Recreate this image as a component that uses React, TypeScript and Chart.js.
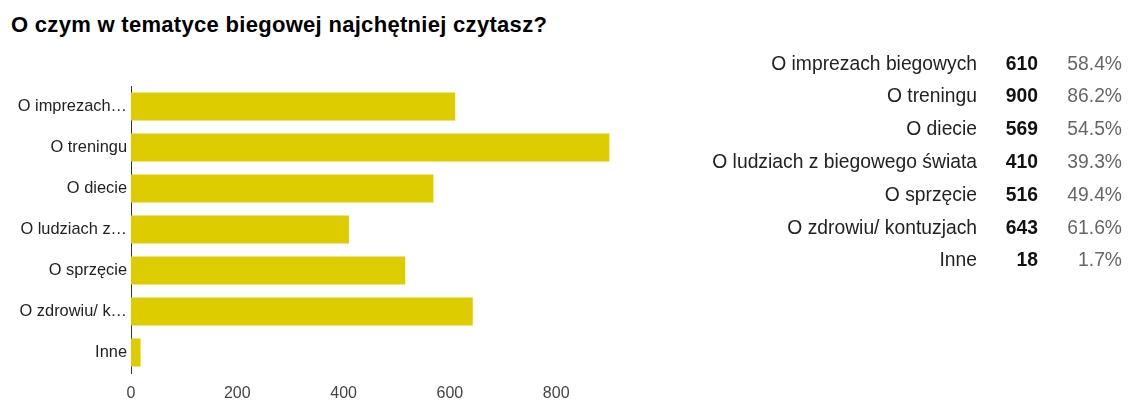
import React, { useEffect, useRef } from "react";
import { Chart, registerables } from "chart.js";

Chart.register(...registerables);

const title = "O czym w tematyce biegowej najchętniej czytasz?";
const categories = [
  "O imprezach biegowych",
  "O treningu",
  "O diecie",
  "O ludziach z biegowego świata",
  "O sprzęcie",
  "O zdrowiu/ kontuzjach",
  "Inne",
];
const axisLabels = [
  "O imprezach…",
  "O treningu",
  "O diecie",
  "O ludziach z…",
  "O sprzęcie",
  "O zdrowiu/ k…",
  "Inne",
];
const counts = [610, 900, 569, 410, 516, 643, 18];
const percents = ["58.4%", "86.2%", "54.5%", "39.3%", "49.4%", "61.6%", "1.7%"];
const xTicks = [0, 200, 400, 600, 800];

const FONT = "'Liberation Sans', Arial, sans-serif";
const CANVAS_W = 680;
const CANVAS_H = 414;

export default function App() {
  const ref = useRef<HTMLCanvasElement | null>(null);

  useEffect(() => {
    if (!ref.current) return;
    const chart = new Chart(ref.current, {
      type: "bar",
      data: {
        labels: axisLabels,
        datasets: [
          {
            data: counts,
            backgroundColor: "#dccc00",
            borderWidth: 0,
            categoryPercentage: 1,
            barPercentage: 0.68,
          },
        ],
      },
      options: {
        indexAxis: "y",
        animation: false,
        responsive: false,
        maintainAspectRatio: false,
        layout: { padding: { top: 86, left: 0, right: 17.5, bottom: 0 } },
        plugins: {
          legend: { display: false },
          tooltip: { enabled: false },
          title: { display: false },
        },
        scales: {
          x: {
            min: 0,
            max: 1000,
            grid: { display: false, drawTicks: false },
            border: { display: false },
            afterBuildTicks: (scale: any) => {
              scale.ticks = xTicks.map((v) => ({ value: v }));
            },
            afterFit: (scale: any) => {
              scale.height = 41;
            },
            ticks: {
              padding: 11,
              color: "#444",
              font: { family: FONT, size: 16 },
              maxRotation: 0,
            },
          },
          y: {
            grid: { display: false, drawTicks: false },
            border: { display: true, color: "#333", width: 1 },
            afterFit: (scale: any) => {
              scale.width = 131;
            },
            ticks: {
              padding: 4,
              color: "#222",
              font: { family: FONT, size: 16.4 },
            },
          },
        },
      },
    });
    return () => chart.destroy();
  }, []);

  return (
    <div
      style={{
        position: "absolute",
        left: 0,
        top: 0,
        width: 1138,
        height: 414,
        background: "#fff",
        fontFamily: FONT,
        overflow: "hidden",
      }}
    >
      <div
        style={{
          position: "absolute",
          left: 11,
          top: 13.5,
          fontSize: 22,
          lineHeight: "22px",
          fontWeight: "bold",
          color: "#000",
          letterSpacing: "0.3px",
          whiteSpace: "nowrap",
        }}
      >
        {title}
      </div>
      <canvas
        ref={ref}
        width={CANVAS_W}
        height={CANVAS_H}
        style={{ position: "absolute", left: 0, top: 0, width: CANVAS_W, height: CANVAS_H }}
      />
      {categories.map((c, i) => (
        <div
          key={c}
          style={{
            position: "absolute",
            left: 600,
            top: 51.5 + i * 32.8,
            width: 522,
            height: 24,
            fontSize: 19.3,
            lineHeight: "24px",
            whiteSpace: "nowrap",
          }}
        >
          <span style={{ position: "absolute", right: 145, color: "#222" }}>{c}</span>
          <span style={{ position: "absolute", right: 84, color: "#111", fontWeight: "bold" }}>
            {counts[i]}
          </span>
          <span style={{ position: "absolute", right: 0, color: "#666" }}>{percents[i]}</span>
        </div>
      ))}
    </div>
  );
}
